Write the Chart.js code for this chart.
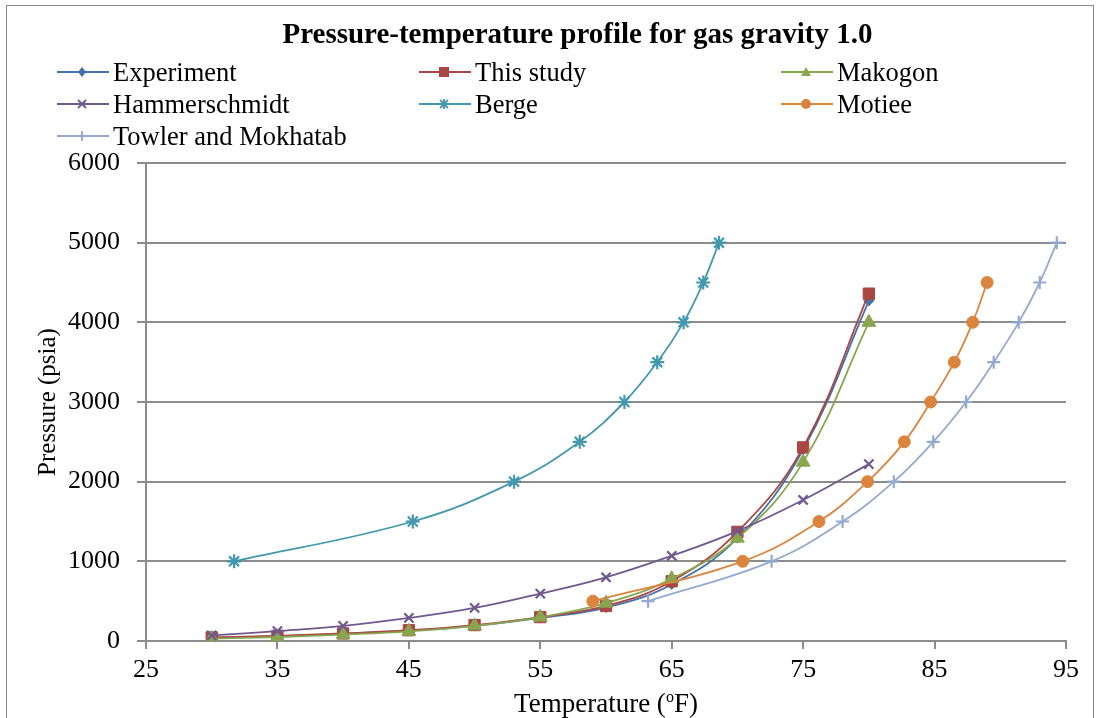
<!DOCTYPE html>
<html>
<head>
<meta charset="utf-8">
<script src="https://cdn.jsdelivr.net/npm/chart.js@4.4.0/dist/chart.umd.min.js"></script>
<style>
  body { margin: 0; background: #fff; font-family: "Liberation Serif", "Times New Roman", serif; }
  #wrap { position: relative; width: 1099px; height: 718px; overflow: hidden; }
  #frame { position: absolute; left: 6px; top: 5px; width: 1088px; height: 730px; border: 1.5px solid #8c8c8c; box-sizing: border-box; }
  #chart { position: absolute; left: 0; top: 0; }
  #title { position: absolute; left: 0; top: 16px; width: 1155px; text-align: center; font-weight: bold; font-size: 29px; line-height: 34px; }
  #xtitle { position: absolute; left: 0; top: 687px; width: 1212px; text-align: center; font-size: 27px; line-height: 32px; }
  #xtitle sup { font-size: 16px; vertical-align: 10px; line-height: 0; }
  .lg { position: absolute; height: 30px; font-size: 26.5px; line-height: 30px; white-space: nowrap; }
  .lg svg { position: absolute; left: 0; top: 0; }
  .lg span { position: absolute; left: 57px; top: 0; }
</style>
</head>
<body>
<div id="wrap">
  <div id="frame"></div>
  <canvas id="chart" width="1099" height="718"></canvas>
  <div id="title">Pressure-temperature profile for gas gravity 1.0</div>
  <div id="xtitle">Temperature (<sup>o</sup>F)</div>
  <div id="legend"></div>
</div>
<script>
// temperatures (F) shared by the first four series
const temps = [30, 35, 40, 45, 50, 55, 60, 65, 70, 75, 80];
const experiment    = [40, 60, 90, 130, 190, 290, 420, 710, 1290, 2400, 4270];
const thisStudy     = [45, 65, 95, 135, 200, 300, 440, 750, 1370, 2430, 4360];
const makogon       = [30, 50, 80, 120, 190, 300, 475, 780, 1290, 2245, 4000];
const hammerschmidt = [70, 125, 190, 290, 415, 595, 800, 1070, 1380, 1770, 2220];

const bergeT = [31.7, 45.3, 53.0, 58.0, 61.4, 63.9, 65.9, 67.4, 68.6];
const bergeP = [1000, 1500, 2000, 2500, 3000, 3500, 4000, 4500, 5000];
const motieeT = [59.0, 70.4, 76.2, 79.9, 82.7, 84.7, 86.5, 87.9, 89.0];
const motieeP = [500, 1000, 1500, 2000, 2500, 3000, 3500, 4000, 4500];
const towlerT = [63.2, 72.6, 78.0, 81.9, 84.9, 87.4, 89.5, 91.4, 93.0, 94.3];
const towlerP = [500, 1000, 1500, 2000, 2500, 3000, 3500, 4000, 4500, 5000];

const names  = ['Experiment', 'This study', 'Makogon', 'Hammerschmidt', 'Berge', 'Motiee', 'Towler and Mokhatab'];
const colors = ['#4572A7', '#AA4643', '#89A54E', '#71588F', '#4198AF', '#DB843D', '#93A9CF'];
const styles = ['rectRot', 'rect', 'triangle', 'crossRot', 'star', 'circle', 'cross'];
const radii  = [5, 8, 8, 6.5, 7, 6, 6.5];

const pairs = (xs, ys) => xs.map((x, i) => ({ x: x, y: ys[i] }));
const seriesData = [
  pairs(temps, experiment),
  pairs(temps, thisStudy),
  pairs(temps, makogon),
  pairs(temps, hammerschmidt),
  pairs(bergeT, bergeP),
  pairs(motieeT, motieeP),
  pairs(towlerT, towlerP)
];

Chart.defaults.font.family = '"Liberation Serif", "Times New Roman", serif';
Chart.defaults.color = '#000';

const gray = '#8c8c8c';
const datasets = seriesData.map((d, i) => ({
  label: names[i],
  data: d,
  showLine: true,
  borderColor: colors[i],
  backgroundColor: colors[i],
  borderWidth: 1.8,
  pointStyle: styles[i],
  pointRadius: radii[i],
  pointBorderWidth: (styles[i] === 'crossRot' || styles[i] === 'star' || styles[i] === 'cross') ? 2.2 : 1,
  pointBorderColor: colors[i],
  pointBackgroundColor: colors[i],
  tension: 0.4,
  order: -i
}));

new Chart(document.getElementById('chart'), {
  type: 'scatter',
  data: { datasets: datasets },
  options: {
    responsive: false,
    animation: false,
    layout: { padding: { top: 163, right: 33, bottom: 0, left: 0 } },
    plugins: { legend: { display: false }, tooltip: { enabled: false } },
    scales: {
      x: {
        type: 'linear', min: 25, max: 95,
        ticks: { stepSize: 10, font: { size: 26 }, padding: 6, callback: v => String(v) },
        grid: { drawOnChartArea: false, color: gray, lineWidth: 2, tickLength: 8 },
        border: { color: gray, width: 2 },
        afterFit: s => { s.height = 77; }
      },
      y: {
        min: 0, max: 6000,
        ticks: { stepSize: 1000, font: { size: 26 }, padding: 17, callback: v => String(v) },
        grid: { color: gray, lineWidth: 2, tickLength: 9 },
        border: { color: gray, width: 2 },
        title: { display: true, text: 'Pressure (psia)', font: { size: 25 }, padding: { top: 33, bottom: 0 } },
        afterFit: s => { s.width = 146; }
      }
    }
  }
});

// legend: three columns, rows filled left to right
const legend = document.getElementById('legend');
const colX = [56, 418, 780];
const rowY = [57, 89, 121];
function markerSvg(style, color) {
  let m = '';
  const cx = 26, cy = 15;
  if (style === 'rectRot') m = `<polygon points="${cx},${cy-5} ${cx+4},${cy} ${cx},${cy+5} ${cx-4},${cy}" fill="${color}"/>`;
  else if (style === 'rect') m = `<rect x="${cx-5}" y="${cy-5}" width="10" height="10" fill="${color}"/>`;
  else if (style === 'triangle') m = `<polygon points="${cx},${cy-5} ${cx+5},${cy+4} ${cx-5},${cy+4}" fill="${color}"/>`;
  else if (style === 'crossRot') m = `<path d="M${cx-4} ${cy-4}L${cx+4} ${cy+4}M${cx+4} ${cy-4}L${cx-4} ${cy+4}" stroke="${color}" stroke-width="1.8"/>`;
  else if (style === 'star') m = `<path d="M${cx-4} ${cy-4}L${cx+4} ${cy+4}M${cx+4} ${cy-4}L${cx-4} ${cy+4}M${cx} ${cy-5}L${cx} ${cy+5}" stroke="${color}" stroke-width="1.8"/>`;
  else if (style === 'circle') m = `<circle cx="${cx}" cy="${cy}" r="5" fill="${color}"/>`;
  else if (style === 'cross') m = `<path d="M${cx-5} ${cy}L${cx+5} ${cy}M${cx} ${cy-5}L${cx} ${cy+5}" stroke="${color}" stroke-width="1.8"/>`;
  return `<svg width="54" height="30"><line x1="1" y1="15" x2="53" y2="15" stroke="${color}" stroke-width="2"/>${m}</svg>`;
}
names.forEach((n, i) => {
  const el = document.createElement('div');
  el.className = 'lg';
  el.style.left = colX[i % 3] + 'px';
  el.style.top = rowY[Math.floor(i / 3)] + 'px';
  el.innerHTML = markerSvg(styles[i], colors[i]) + '<span>' + n + '</span>';
  legend.appendChild(el);
});
</script>
</body>
</html>
